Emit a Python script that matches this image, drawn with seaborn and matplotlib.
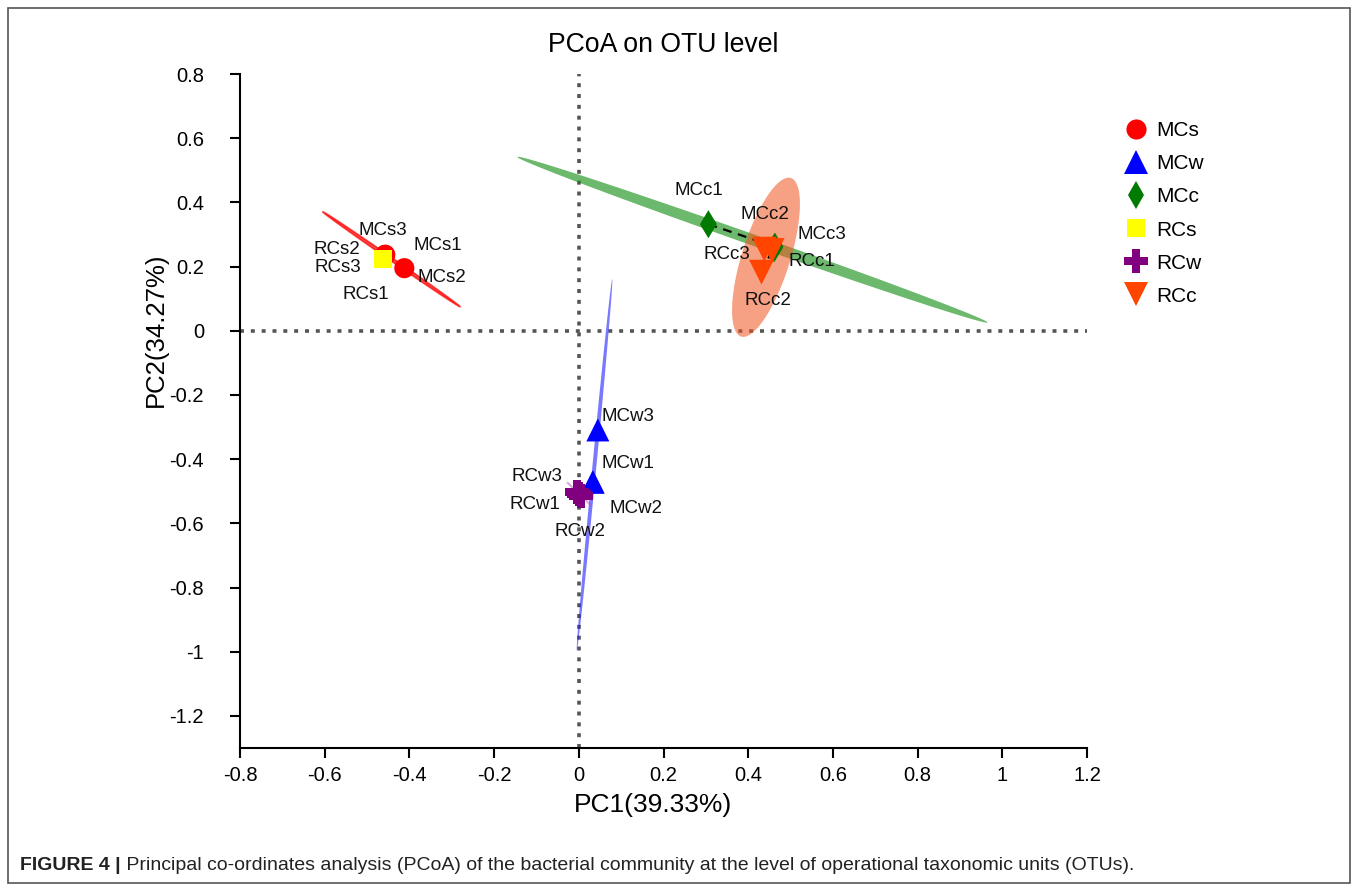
import numpy as np
import pandas as pd
import matplotlib
matplotlib.use("Agg")
import matplotlib.pyplot as plt
import seaborn as sns
from matplotlib.lines import Line2D
from matplotlib.patches import Rectangle
from matplotlib import font_manager

# ---------------- data ----------------
groups = ["MCs", "MCw", "MCc", "RCs", "RCw", "RCc"]
samples = {
    "MCs": ["MCs1", "MCs2", "MCs3"],
    "MCw": ["MCw1", "MCw2", "MCw3"],
    "MCc": ["MCc1", "MCc2", "MCc3"],
    "RCs": ["RCs1", "RCs2", "RCs3"],
    "RCw": ["RCw1", "RCw2", "RCw3"],
    "RCc": ["RCc1", "RCc2", "RCc3"],
}
pc1 = {
    "MCs": [-0.457, -0.412, -0.458],
    "MCw": [0.034, 0.0325, 0.045],
    "MCc": [0.306, 0.463, 0.461],
    "RCs": [-0.463, -0.462, -0.463],
    "RCw": [-0.004, 0.005, 0.0005],
    "RCc": [0.4565, 0.4314, 0.4381],
}
pc2 = {
    "MCs": [0.237, 0.195, 0.236],
    "MCw": [-0.4716, -0.4714, -0.309],
    "MCc": [0.332, 0.262, 0.257],
    "RCs": [0.223, 0.224, 0.2238],
    "RCw": [-0.502, -0.5134, -0.5078],
    "RCc": [0.2501, 0.1826, 0.2543],
}
x_label = "PC1(39.33%)"
y_label = "PC2(34.27%)"
title = "PCoA on OTU level"
caption_bold = "FIGURE 4 |"
caption_text = " Principal co-ordinates analysis (PCoA) of the bacterial community at the level of operational taxonomic units (OTUs)."
x_ticks = [-0.8, -0.6, -0.4, -0.2, 0, 0.2, 0.4, 0.6, 0.8, 1, 1.2]
y_ticks = [-1.2, -1, -0.8, -0.6, -0.4, -0.2, 0, 0.2, 0.4, 0.6, 0.8]

# ---------------- styles ----------------
colors = {"MCs": "#FF0000", "MCw": "#0000FF", "MCc": "#007A00",
          "RCs": "#FFFF00", "RCw": "#800080", "RCc": "#FF4500"}
ell_colors = {"MCs": "#FF0000", "MCw": "#2020FF", "MCc": "#0A8A0A",
              "RCs": "#FFFF00", "RCw": "#C040C0", "RCc": "#F0551E"}
ell_alpha = {"MCs": 0.7, "MCw": 0.6, "MCc": 0.6, "RCs": 0.5, "RCw": 0.45, "RCc": 0.55}
markers = {"MCs": "o", "MCw": "^", "MCc": "d", "RCs": "s", "RCw": "P", "RCc": "v"}
msizes = {"MCs": 210, "MCw": 275, "MCc": 205, "RCs": 170, "RCw": 300, "RCc": 320}
# label offsets in pixels (dx, dy up)
label_off = {
    "MCs1": (53, 9), "MCs2": (38, -9), "MCs3": (-2, 25),
    "RCs1": (-17, -35), "RCs2": (-46, 9), "RCs3": (-45, -9),
    "MCc1": (-10, 34), "MCc2": (-10, 32), "MCc3": (48, 14),
    "RCc1": (40, -11), "RCc2": (6, -28), "RCc3": (-37, -5),
    "MCw1": (35, 19), "MCw2": (43, -26), "MCw3": (30, 13),
    "RCw1": (-42, -13), "RCw2": (-1, -36), "RCw3": (-42, 17),
}

rows = []
for g in groups:
    for s, x, y in zip(samples[g], pc1[g], pc2[g]):
        rows.append({"sample": s, "group": g, "PC1": x, "PC2": y})
df = pd.DataFrame(rows)

sns.set_style("ticks")
plt.rcParams["font.family"] = ["Liberation Sans", "DejaVu Sans"]
plt.rcParams["axes.unicode_minus"] = False
plt.rcParams["text.color"] = "black"
plt.rcParams["axes.labelcolor"] = "black"
plt.rcParams["xtick.color"] = "black"
plt.rcParams["ytick.color"] = "black"

W, H = 1357, 891
fig = plt.figure(figsize=(W / 100, H / 100), dpi=100)
ax = fig.add_axes([240 / W, 1 - 748 / H, (1087 - 240) / W, (748 - 74) / H])

# confidence ellipses (t-based, 95%)
def ellipse_pts(x, y, level=0.95, n_pts=200):
    x = np.asarray(x); y = np.asarray(y)
    n = len(x)
    d = n - 1
    fq = (d / 2.0) * ((1 - level) ** (-2.0 / d) - 1)
    r = np.sqrt(2 * fq)
    cov = np.cov(x, y)
    vals, vecs = np.linalg.eigh(cov)
    vals = np.clip(vals, 0, None)
    t = np.linspace(0, 2 * np.pi, n_pts)
    circ = np.vstack([np.cos(t), np.sin(t)])
    pts = vecs @ (np.sqrt(vals)[:, None] * circ) * r
    return pts[0] + x.mean(), pts[1] + y.mean()

for g in groups:
    ex, ey = ellipse_pts(pc1[g], pc2[g])
    lw = 1.2 if g in ("MCs", "RCw") else 0
    ax.fill(ex, ey, facecolor=ell_colors[g], edgecolor=ell_colors[g],
            alpha=ell_alpha[g], lw=lw, zorder=1)

# zero lines
ax.axhline(0, color="#555555", lw=2.6, ls=(0, (1.1, 1.9)), zorder=0.5)
ax.axvline(0, color="#555555", lw=2.6, ls=(0, (1.1, 1.9)), zorder=0.5)

# dashed connectors
for g in groups:
    ax.plot(pc1[g][:2], pc2[g][:2], color="black", lw=1.6, ls=(0, (4, 3)), zorder=2)

for g in groups:
    sub = df[df.group == g]
    sns.scatterplot(data=sub, x="PC1", y="PC2", ax=ax, marker=markers[g],
                    color=colors[g], s=msizes[g], edgecolor="none",
                    linewidth=0, legend=False, zorder=3)

for _, r in df.iterrows():
    dx, dy = label_off[r["sample"]]
    ax.annotate(r["sample"], (r["PC1"], r["PC2"]), xytext=(dx, dy),
                textcoords="offset pixels", ha="center", va="center",
                fontsize=13.5, color="#111111", zorder=4)

ax.set_xlim(-0.8, 1.2)
ax.set_ylim(-1.3, 0.8)
ax.set_xticks(x_ticks)
ax.set_yticks(y_ticks)
ax.set_xticklabels([f"{v:g}" for v in x_ticks])
ax.set_yticklabels([f"{v:g}" for v in y_ticks])
ax.tick_params(axis="both", direction="out", length=7, width=1.5,
               labelsize=14.5, colors="black")
ax.tick_params(axis="x", pad=6)
ax.tick_params(axis="y", pad=19)
for side in ["top", "right"]:
    ax.spines[side].set_visible(False)
for side in ["left", "bottom"]:
    ax.spines[side].set_linewidth(1.5)
    ax.spines[side].set_color("black")
ax.set_xlabel(x_label, fontsize=19)
ax.set_ylabel(y_label, fontsize=18.5)
ax.xaxis.set_label_coords((653 - 240) / 847, (748 - 805) / 674)
ax.xaxis.label.set_va("center")
ax.yaxis.set_label_coords((156 - 240) / 847, (748 - 330) / 674)
ax.yaxis.label.set_va("center")
fig.text(663 / W, 1 - 45 / H, title, ha="center", va="center", fontsize=19.2)

# legend
handles = [Line2D([], [], ls="none", marker=markers[g], color=colors[g],
                  markeredgewidth=0, markersize=np.sqrt(msizes[g])) for g in groups]
leg = fig.legend(handles, groups, loc="upper left", bbox_to_anchor=(1111 / W, 1 - 113 / H),
                 frameon=False, fontsize=15, handletextpad=0.16, labelspacing=0.675,
                 handlelength=1.6, borderaxespad=0)

# frame & caption
fig.add_artist(Rectangle((8 / W, 8 / H), (1350 - 8) / W, (883 - 8) / H, transform=fig.transFigure,
                         fill=False, edgecolor="#555555", lw=1.2))
avail = [f.name for f in font_manager.fontManager.ttflist]
cap_fam = ["Liberation Sans Narrow", "Liberation Sans"] if "Liberation Sans Narrow" in avail else ["Liberation Sans"]
t1 = fig.text(20 / W, 1 - 866 / H, caption_bold, fontsize=11, fontweight="bold",
              ha="left", va="center", family=cap_fam, color="#222222")
renderer = fig.canvas.get_renderer()
bb = t1.get_window_extent(renderer)
t2 = fig.text(bb.x1 / W, 1 - 866 / H, caption_text, fontsize=11, ha="left", va="center",
              family=cap_fam, color="#222222")
bb2 = t2.get_window_extent(renderer)
total = bb2.x1 - bb.x0
scale = (1125 - 20) / total
fs = 11 * scale
t1.set_fontsize(fs)
bb = t1.get_window_extent(renderer)
t2.set_fontsize(fs)
t2.set_x(bb.x1 / W)

fig.savefig("out.png", dpi=100)
